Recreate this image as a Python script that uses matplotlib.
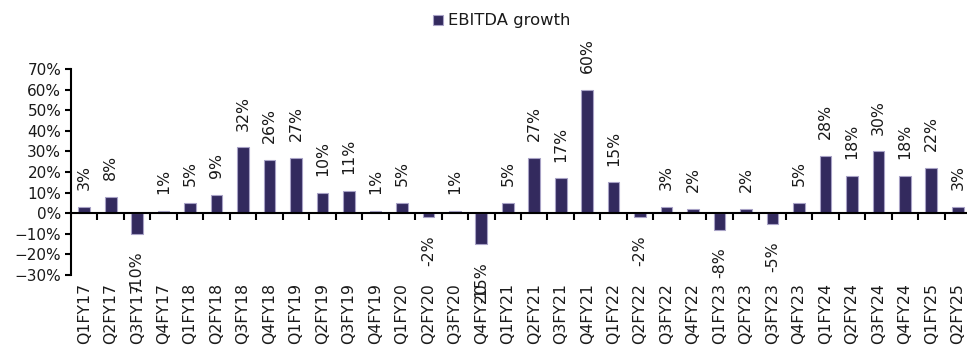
import matplotlib
matplotlib.use("Agg")
import matplotlib.pyplot as plt
from matplotlib.ticker import FixedLocator, PercentFormatter
import matplotlib.transforms as mtransforms

quarters = [
    "Q1FY17", "Q2FY17", "Q3FY17", "Q4FY17",
    "Q1FY18", "Q2FY18", "Q3FY18", "Q4FY18",
    "Q1FY19", "Q2FY19", "Q3FY19", "Q4FY19",
    "Q1FY20", "Q2FY20", "Q3FY20", "Q4FY20",
    "Q1FY21", "Q2FY21", "Q3FY21", "Q4FY21",
    "Q1FY22", "Q2FY22", "Q3FY22", "Q4FY22",
    "Q1FY23", "Q2FY23", "Q3FY23", "Q4FY23",
    "Q1FY24", "Q2FY24", "Q3FY24", "Q4FY24",
    "Q1FY25", "Q2FY25",
]
ebitda_growth = [
    3, 8, -10, 1,
    5, 9, 32, 26,
    27, 10, 11, 1,
    5, -2, 1, -15,
    5, 27, 17, 60,
    15, -2, 3, 2,
    -8, 2, -5, 5,
    28, 18, 30, 18,
    22, 3,
]
y_ticks = [-30, -20, -10, 0, 10, 20, 30, 40, 50, 60, 70]

BAR = "#332a5e"
EDGE = "#a8a2c6"
TEXT = "#1a1a1a"

plt.rcParams["font.family"] = ["DejaVu Sans"]
plt.rcParams["font.size"] = 10.5

W, H = 967, 347
fig = plt.figure(figsize=(W / 100, H / 100), dpi=100)
left_px, right_px, top_px, bot_px = 71, 971, 69, 275
ax = fig.add_axes([left_px / W, (H - bot_px) / H,
                   (right_px - left_px) / W, (bot_px - top_px) / H])

x = list(range(len(quarters)))
bars = ax.bar(x, ebitda_growth, width=0.44, color=BAR, edgecolor=EDGE,
              linewidth=0.8, label="EBITDA growth", zorder=2)

ax.set_xlim(-0.5, len(quarters) - 0.5)
ax.set_ylim(y_ticks[0], y_ticks[-1])
ax.yaxis.set_major_locator(FixedLocator(y_ticks))
ax.yaxis.set_major_formatter(PercentFormatter(decimals=0))
ax.tick_params(axis="y", direction="out", length=4, width=1.5, pad=3,
               colors="black", labelcolor=TEXT, labelsize=11)

for side in ("top", "right"):
    ax.spines[side].set_visible(False)
ax.spines["left"].set_linewidth(1.5)
ax.spines["bottom"].set_position(("data", 0))
ax.spines["bottom"].set_linewidth(1.5)

# tick marks between categories on the zero line, no labels there
ax.xaxis.set_major_locator(FixedLocator([i + 0.5 for i in x[:-1]]))
ax.tick_params(axis="x", direction="out", length=5, width=1.5, labelbottom=False)

# category labels below the plot area
trans = mtransforms.blended_transform_factory(ax.transData, ax.transAxes)
for xi, q in zip(x, quarters):
    ax.text(xi, -0.04, q, transform=trans, rotation=90, ha="center",
            va="top", fontsize=11.3, color=TEXT)

# value labels
for xi, v in zip(x, ebitda_growth):
    if v >= 0:
        ax.annotate(f"{v}%", (xi, v), xytext=(0, 12), textcoords="offset points",
                    rotation=90, ha="center", va="bottom", fontsize=11.3, color=TEXT)
    else:
        ax.annotate(f"{v}%", (xi, v), xytext=(0, -13), textcoords="offset points",
                    rotation=90, ha="center", va="top", fontsize=11.3, color=TEXT)

leg = fig.legend(handles=[bars], labels=["EBITDA growth"], loc="center",
                 bbox_to_anchor=(502 / W, 1 - 21 / H), frameon=False, fontsize=11.8,
                 handlelength=0.6, handleheight=0.6, handletextpad=0.3)
for t in leg.get_texts():
    t.set_color(TEXT)

fig.savefig("out.png", dpi=100)
